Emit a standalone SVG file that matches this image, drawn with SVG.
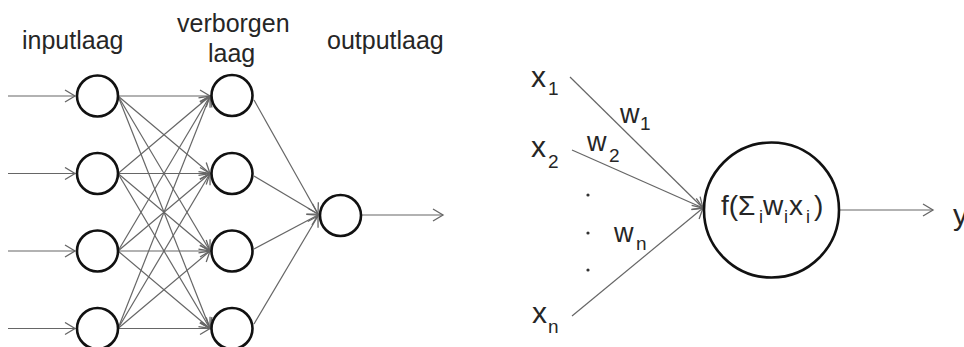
<svg xmlns="http://www.w3.org/2000/svg" width="964" height="347" viewBox="0 0 964 347">
<defs>
<style>
.lbl{font-family:"Liberation Sans",Arial,sans-serif;fill:#262626}
.node{fill:#fff;stroke:#111;stroke-width:2.6}
.ln{stroke:#666;stroke-width:1.2;fill:none}
.dot{fill:#333}
</style>
<marker id="ah" markerUnits="userSpaceOnUse" markerWidth="14" markerHeight="14" viewBox="-12 -7 14 14" refX="0" refY="0" orient="auto">
<path d="M-10,-6 L0,0 L-10,6" fill="none" stroke="#666" stroke-width="1.3"/>
</marker>
</defs>
<rect width="964" height="347" fill="#fff"/>

<g id="labels">
<text class="lbl" x="22" y="49" font-size="25">inputlaag</text>
<text class="lbl" x="177" y="32" font-size="25">verborgen</text>
<text class="lbl" x="208" y="62" font-size="25">laag</text>
<text class="lbl" x="327" y="49" font-size="25">outputlaag</text>
</g>

<g id="connectors">
<line class="ln" x1="8" y1="96" x2="75" y2="96" marker-end="url(#ah)"/>
<line class="ln" x1="8" y1="173.5" x2="75" y2="173.5" marker-end="url(#ah)"/>
<line class="ln" x1="8" y1="251" x2="75" y2="251" marker-end="url(#ah)"/>
<line class="ln" x1="8" y1="328.5" x2="75" y2="328.5" marker-end="url(#ah)"/>

<line class="ln" x1="118" y1="96" x2="210" y2="96" marker-end="url(#ah)"/>
<line class="ln" x1="118" y1="96" x2="210" y2="173.5" marker-end="url(#ah)"/>
<line class="ln" x1="118" y1="96" x2="210" y2="251" marker-end="url(#ah)"/>
<line class="ln" x1="118" y1="96" x2="210" y2="328.5" marker-end="url(#ah)"/>
<line class="ln" x1="118" y1="173.5" x2="210" y2="96" marker-end="url(#ah)"/>
<line class="ln" x1="118" y1="173.5" x2="210" y2="173.5" marker-end="url(#ah)"/>
<line class="ln" x1="118" y1="173.5" x2="210" y2="251" marker-end="url(#ah)"/>
<line class="ln" x1="118" y1="173.5" x2="210" y2="328.5" marker-end="url(#ah)"/>
<line class="ln" x1="118" y1="251" x2="210" y2="96" marker-end="url(#ah)"/>
<line class="ln" x1="118" y1="251" x2="210" y2="173.5" marker-end="url(#ah)"/>
<line class="ln" x1="118" y1="251" x2="210" y2="251" marker-end="url(#ah)"/>
<line class="ln" x1="118" y1="251" x2="210" y2="328.5" marker-end="url(#ah)"/>
<line class="ln" x1="118" y1="328.5" x2="210" y2="96" marker-end="url(#ah)"/>
<line class="ln" x1="118" y1="328.5" x2="210" y2="173.5" marker-end="url(#ah)"/>
<line class="ln" x1="118" y1="328.5" x2="210" y2="251" marker-end="url(#ah)"/>
<line class="ln" x1="118" y1="328.5" x2="210" y2="328.5" marker-end="url(#ah)"/>

<line class="ln" x1="254" y1="100" x2="318" y2="214" marker-end="url(#ah)"/>
<line class="ln" x1="254" y1="176" x2="318" y2="214" marker-end="url(#ah)"/>
<line class="ln" x1="254" y1="249" x2="318" y2="215" marker-end="url(#ah)"/>
<line class="ln" x1="254" y1="324" x2="318" y2="216" marker-end="url(#ah)"/>

<line class="ln" x1="362" y1="215" x2="443" y2="215" marker-end="url(#ah)"/>

<line class="ln" x1="570" y1="77" x2="703" y2="208" marker-end="url(#ah)"/>
<line class="ln" x1="572" y1="150" x2="703" y2="208" marker-end="url(#ah)"/>
<line class="ln" x1="572" y1="316" x2="703" y2="208" marker-end="url(#ah)"/>
<line class="ln" x1="839" y1="210" x2="933" y2="210" marker-end="url(#ah)"/>
</g>

<g id="input1"><circle class="node" cx="97.5" cy="96" r="20.5"/></g>
<g id="input2"><circle class="node" cx="97.5" cy="173.5" r="20.5"/></g>
<g id="input3"><circle class="node" cx="97.5" cy="251" r="20.5"/></g>
<g id="input4"><circle class="node" cx="97.5" cy="328.5" r="20.5"/></g>
<g id="hidden1"><circle class="node" cx="232" cy="95.5" r="20.5"/></g>
<g id="hidden2"><circle class="node" cx="232" cy="173.5" r="20.5"/></g>
<g id="hidden3"><circle class="node" cx="232" cy="251" r="20.5"/></g>
<g id="hidden4"><circle class="node" cx="232" cy="328.5" r="20.5"/></g>
<g id="output"><circle class="node" cx="340.5" cy="215.5" r="20.5"/></g>

<g id="neuron">
<circle class="node" cx="771.5" cy="210" r="67.5" stroke-width="2.4"/>
<text class="lbl" y="215" font-size="28"><tspan x="721">f(Σ</tspan><tspan x="759" y="223" font-size="18">i</tspan><tspan x="763" y="215">w</tspan><tspan x="784" y="223" font-size="18">i</tspan><tspan x="789" y="215">x</tspan><tspan x="806" y="223" font-size="18">i</tspan><tspan x="814" y="215">)</tspan></text>
</g>

<g id="inputs">
<text class="lbl" x="531" y="87" font-size="30">x<tspan x="548" y="95" font-size="19">1</tspan></text>
<text class="lbl" x="531" y="157" font-size="30">x<tspan x="548" y="168" font-size="19">2</tspan></text>
<text class="lbl" x="532" y="323" font-size="30">x<tspan x="548" y="333" font-size="19">n</tspan></text>
<circle class="dot" cx="588" cy="195" r="1.6"/>
<circle class="dot" cx="588" cy="233" r="1.6"/>
<circle class="dot" cx="588" cy="270" r="1.6"/>
</g>

<g id="weights">
<text class="lbl" x="620" y="123" font-size="27">w<tspan x="640" y="130" font-size="19">1</tspan></text>
<text class="lbl" x="587" y="151" font-size="27">w<tspan x="609" y="162" font-size="19">2</tspan></text>
<text class="lbl" x="614" y="242" font-size="27">w<tspan x="636" y="250" font-size="19">n</tspan></text>
</g>

<g id="output-y">
<text class="lbl" x="953" y="225" font-size="30">y</text>
</g>
</svg>
